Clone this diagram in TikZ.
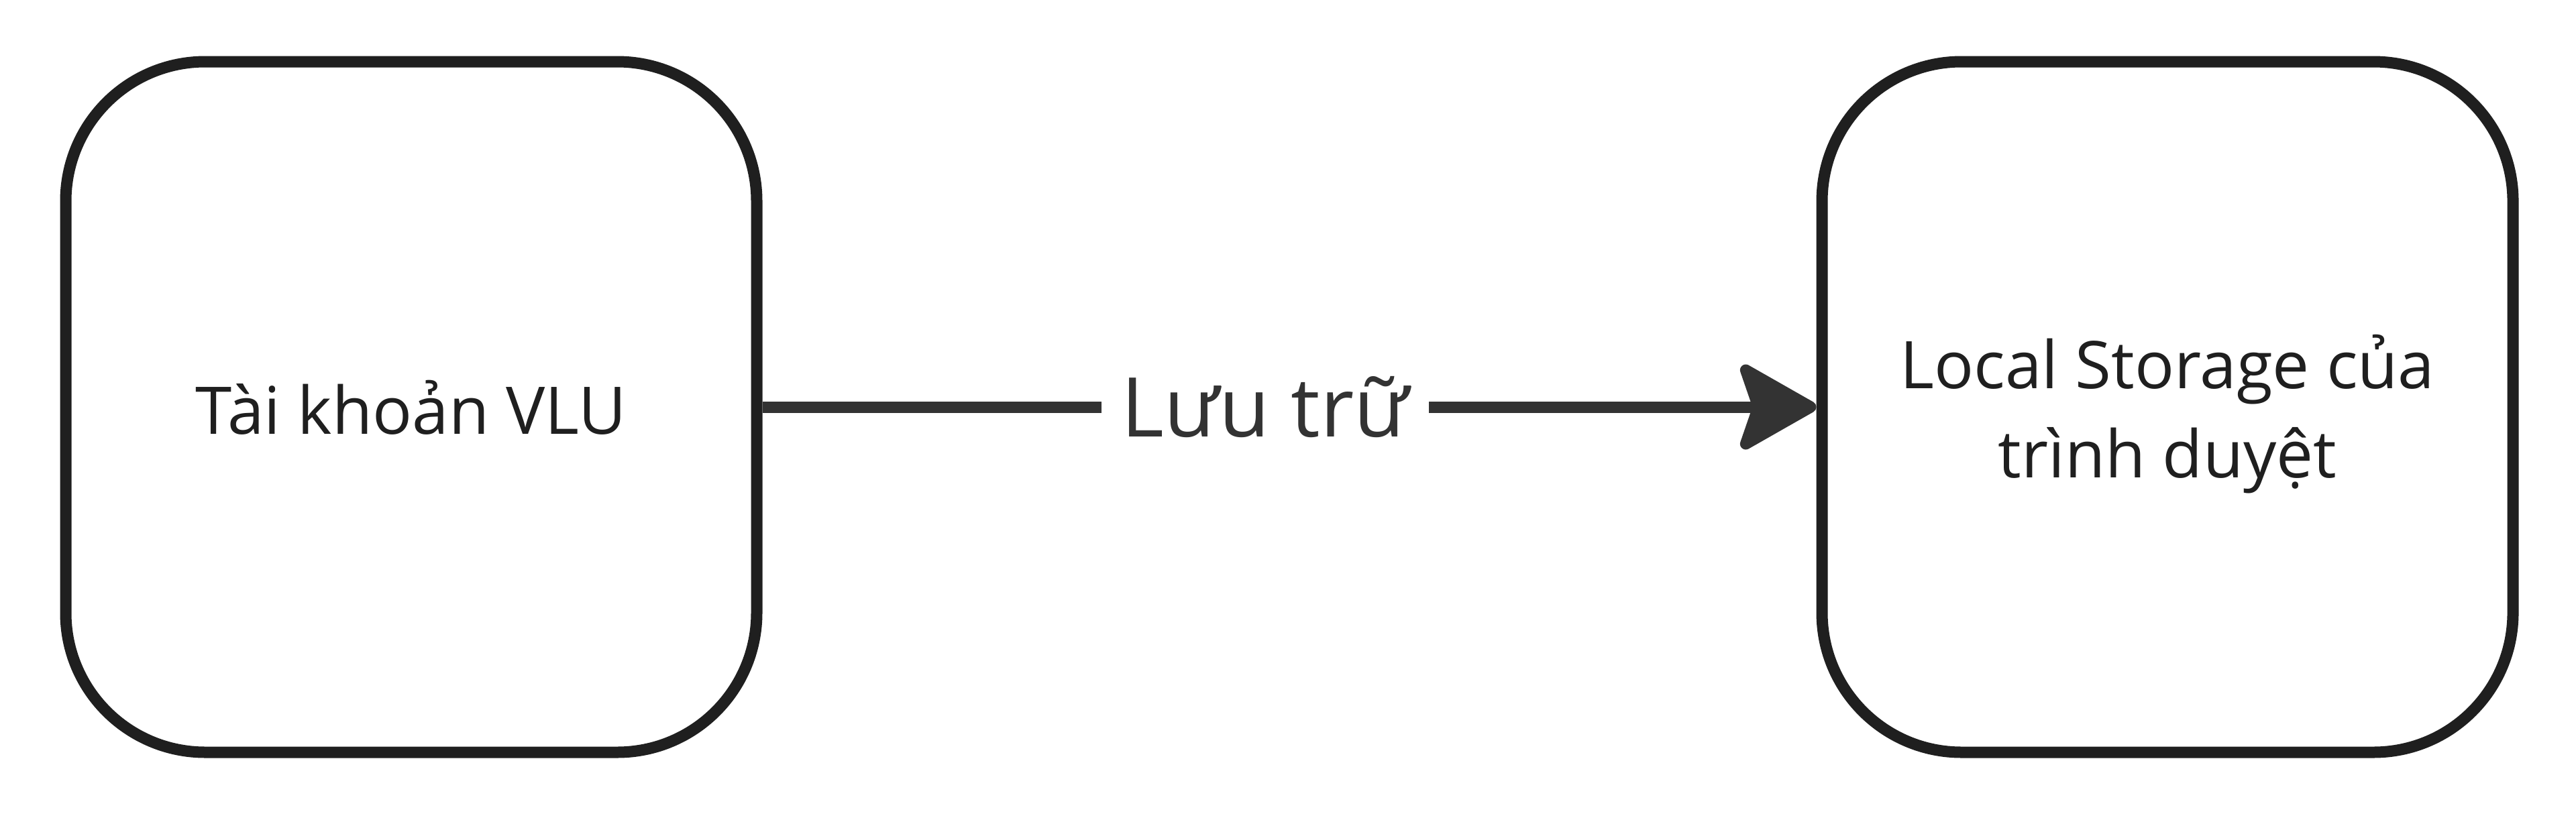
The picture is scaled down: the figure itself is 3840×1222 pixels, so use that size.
\documentclass[tikz,border=0pt]{standalone}
\usepackage{fontspec}
\setmainfont{Open Sans}
\usetikzlibrary{arrows.meta}
\definecolor{boxline}{HTML}{1F1F1F}
\definecolor{arrowcol}{HTML}{333333}
\tikzset{
  procbox/.style={draw=boxline, line width=4.25pt, rounded corners=52pt,
    minimum width=257.5pt, minimum height=257.5pt, inner sep=0pt,
    fill=white, text=boxline, align=center,
    font=\fontsize{24.5pt}{33.25pt}\selectfont},
  flowarrow/.style={draw=arrowcol, line width=4.25pt,
    -{Stealth[length=32pt, width=36pt, inset=6pt, round]}},
  flowlabel/.style={fill=white, text=arrowcol, inner xsep=7.5pt, inner ysep=4pt,
    font=\fontsize{30.75pt}{40pt}\selectfont, text height=22pt, text depth=0pt}
}
\begin{document}
\begin{tikzpicture}[x=0.25pt, y=-0.25pt]
  \useasboundingbox (0,0) rectangle (3840,1222);
  \fill[white] (0,0) rectangle (3840,1222);
  \node[procbox, text height=20pt, text depth=0pt] (acc) at (613,607) {Tài khoản VLU};
  \node[procbox, text height=52.5pt, text depth=0pt] (ls) at (3231,607) {Local Storage của\\trình duyệt};
  \draw[flowarrow] (acc.east) -- node[flowlabel, pos=0.477] (lbl) {Lưu trữ} (ls.west);
\end{tikzpicture}
\end{document}
